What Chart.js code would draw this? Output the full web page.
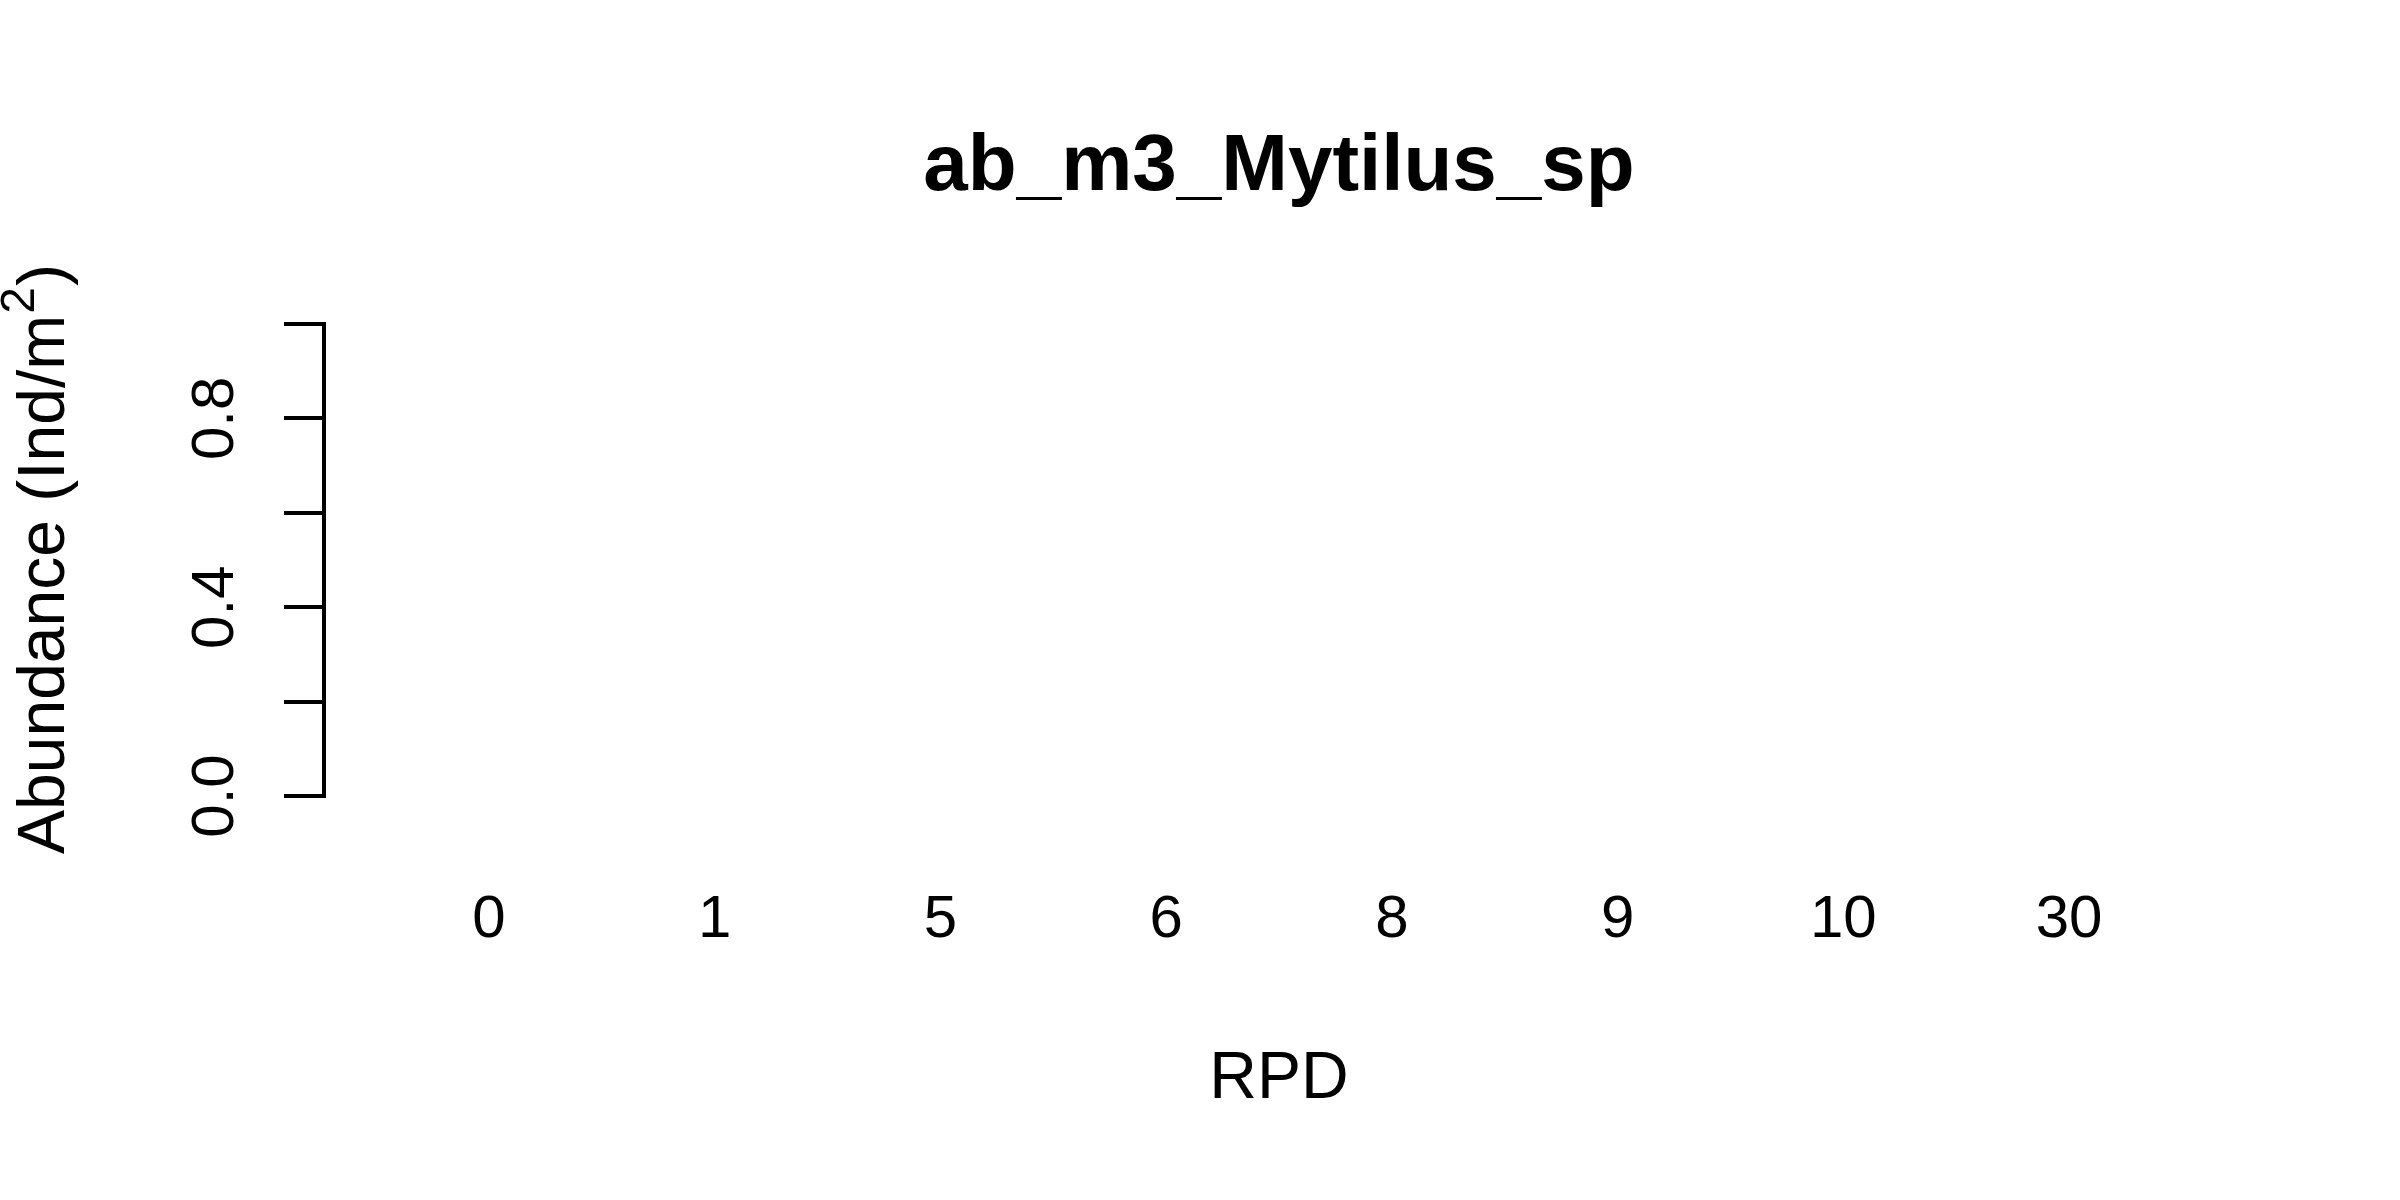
<!DOCTYPE html>
<html>
<head>
<meta charset="utf-8">
<script src="https://cdn.jsdelivr.net/npm/chart.js@4/dist/chart.umd.min.js"></script>
<style>
  html, body { margin: 0; padding: 0; background: #ffffff; }
  canvas { display: block; }
</style>
</head>
<body>
<canvas id="grafico" width="2400" height="1200"></canvas>
<script>
document.addEventListener("DOMContentLoaded", function () {

    // data
    const rpdLabels = ["0", "1", "5", "6", "8", "9", "10", "30"];
    const abundance = [0, 0, 0, 0, 0, 0, 0, 0];
    const yTickValues = [0, 0.4, 0.8];
    const yTickLabels = ["0.0", "0.4", "0.8"];

    const fontFamily = "'Liberation Sans', Arial, sans-serif";

    // R draws the y tick labels turned 90 degrees, and m^2 with a real superscript
    const rotatedYText = {
        id: 'rotatedYText',
        afterDraw(chart) {
            const { ctx } = chart;
            const y = chart.scales.y;
            ctx.save();
            ctx.fillStyle = '#000000';
            ctx.textBaseline = 'alphabetic';

            ctx.font = '60px ' + fontFamily;
            ctx.textAlign = 'center';
            yTickValues.forEach((v, i) => {
                ctx.save();
                ctx.translate(233, y.getPixelForValue(v));
                ctx.rotate(-Math.PI / 2);
                ctx.fillText(yTickLabels[i], 0, 0);
                ctx.restore();
            });

            // axis title
            const main1 = 'Abundance (Ind/m';
            const sup = '2';
            const main2 = ')';
            ctx.font = '66px ' + fontFamily;
            const w1 = ctx.measureText(main1).width;
            const w3 = ctx.measureText(main2).width;
            ctx.font = '48px ' + fontFamily;
            const w2 = ctx.measureText(sup).width;
            const total = w1 + w2 + w3;
            const mid = (y.getPixelForValue(0) + y.getPixelForValue(1)) / 2;

            ctx.translate(64, mid);
            ctx.rotate(-Math.PI / 2);
            ctx.textAlign = 'left';
            let x0 = -total / 2;
            ctx.font = '66px ' + fontFamily;
            ctx.fillText(main1, x0, 0);
            ctx.font = '48px ' + fontFamily;
            ctx.fillText(sup, x0 + w1 + 1, -30);
            ctx.font = '66px ' + fontFamily;
            ctx.fillText(main2, x0 + w1 + w2 + 2, 0);
            ctx.restore();
        }
    };

    const ctx = document.getElementById("grafico");

    new Chart(ctx, {
        type: "bar",
        data: {
            datasets: [{
                data: rpdLabels.map((_, i) => ({ x: i, y: abundance[i] })),
                backgroundColor: "#bebebe",
                borderWidth: 0
            }]
        },
        options: {
            responsive: false,
            animation: false,
            devicePixelRatio: 1,
            layout: { padding: { left: 0, right: 166, top: 0, bottom: 81 } },
            plugins: {
                legend: { display: false },
                tooltip: { enabled: false },
                title: {
                    display: true,
                    text: "ab_m3_Mytilus_sp",
                    color: "#000000",
                    fullSize: false,
                    font: { family: fontFamily, size: 80, weight: "bold", lineHeight: 1.2 },
                    padding: { top: 120, bottom: 108 }
                }
            },
            scales: {
                x: {
                    type: "linear",
                    offset: false,
                    min: -0.731,
                    max: 7.731,
                    grid: { display: false, drawTicks: false },
                    border: { display: false },
                    ticks: {
                        stepSize: 1,
                        includeBounds: false,
                        autoSkip: false,
                        maxRotation: 0,
                        padding: 88,
                        color: "#000000",
                        font: { family: fontFamily, size: 60, lineHeight: 1.2 },
                        callback: (v) => rpdLabels[v] !== undefined ? rpdLabels[v] : ""
                    },
                    title: {
                        display: true,
                        text: "RPD",
                        color: "#000000",
                        font: { family: fontFamily, size: 66, lineHeight: 1.2 },
                        padding: { top: 0, bottom: 0 }
                    },
                    afterFit: (scale) => { scale.height = 323; }
                },
                y: {
                    min: 0,
                    max: 1,
                    grid: {
                        display: true,
                        drawOnChartArea: false,
                        drawTicks: true,
                        tickLength: 40,
                        lineWidth: 4,
                        color: "#000000"
                    },
                    border: { display: true, width: 4, color: "#000000" },
                    ticks: { display: false, stepSize: 0.2 },
                    afterFit: (scale) => { scale.width = 324; }
                }
            }
        },
        plugins: [rotatedYText]
    });

});
</script>
</body>
</html>
